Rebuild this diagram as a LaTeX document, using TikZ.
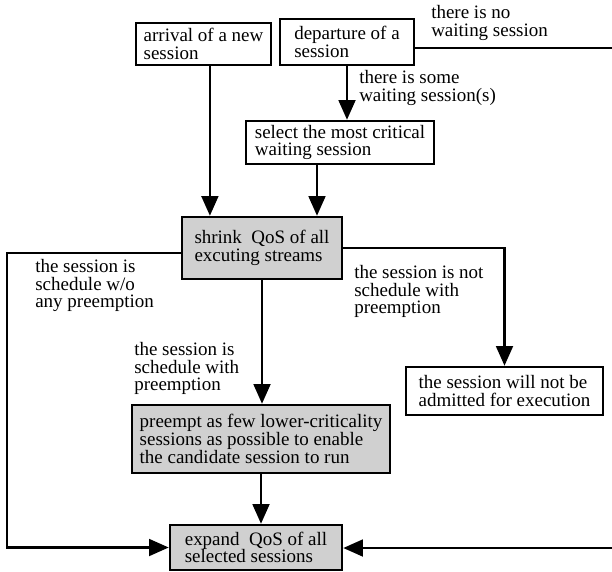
\documentclass[tikz,border=0pt]{standalone}
\usepackage{fontspec}
\setmainfont{Liberation Serif}
\newfontfamily\flowfamily{Liberation Serif}
\usepackage{tikz}
\usetikzlibrary{arrows.meta}
\definecolor{ShadeGray}{RGB}{208,208,208}
\newcommand{\flowfont}{\flowfamily\fontsize{13.5}{12.6}\selectfont}

\begin{document}
\begin{tikzpicture}[
  x=0.025cm, y=-0.025cm,
  box/.style = {
    rectangle, draw, line width=1.8pt,
    align=left, font=\flowfont, inner sep=2pt
  },
  shaded/.style = {box, fill=ShadeGray},
  note/.style = {align=left, font=\flowfont, inner sep=0pt, anchor=north west},
  arrow/.style = {-{Triangle[length=14pt, width=12pt]}, line width=1.6pt},
  link/.style = {line width=1.6pt}
]
\useasboundingbox (0,0) rectangle (612,572);

% Events
\node[box, minimum width=3.375cm, minimum height=1.05cm] (arrival) at (203.5,44)
  {arrival of a new\\session};
\node[box, minimum width=3.35cm, minimum height=1.15cm] (departure) at (347,42)
  {departure of a\\session};

\coordinate (nowait) at (612,48);
\draw[link] (nowait -| departure.east) -- (nowait);
\node[note] (nowaitlbl) at (431,5) {there is no\\waiting session};

% Waiting session
\node[box, minimum width=4.7cm, minimum height=1.075cm] (select) at (340,142.5)
  {select the most critical\\waiting session};

\draw[arrow] (departure.south) -- (departure.south |- select.north);
\node[note] (somewaitlbl) at (359,70) {there is some\\waiting session(s)};

% Shrink
\node[shaded, minimum width=4cm, minimum height=1.55cm] (shrink) at (262,248)
  {shrink~ QoS of all\\excuting streams};

\coordinate (arrout) at ([xshift=0.16cm]arrival.south);
\coordinate (selout) at ([xshift=-0.575cm]select.south);
\draw[arrow] (arrout) -- (arrout |- shrink.north);
\draw[arrow] (selout) -- (selout |- shrink.north);

% Not admitted
\node[box, minimum width=4.925cm, minimum height=1.2cm] (notadmit) at (504.5,391)
  {the session will not be\\admitted for execution};

\draw[arrow] (shrink.east) -| (notadmit.north);
\node[note] (notschedlbl) at (354,265) {the session is not\\schedule with\\preemption};

% Preemption
\node[shaded, minimum width=6.45cm, minimum height=1.7cm] (preempt) at (261,439)
  {preempt as few lower-criticality\\sessions as possible to enable\\the candidate session to run};

\draw[arrow] (shrink.south) -- (shrink.south |- preempt.north);
\node[note] (withpreemptlbl) at (134,342) {the session is\\schedule with\\preemption};

% Expand
\node[shaded, minimum width=4.3cm, minimum height=1.125cm] (expand) at (256,547.5)
  {expand~ QoS of all\\selected sessions};

\draw[arrow] (preempt.south) -- (preempt.south |- expand.north);

\coordinate (leftturn) at (7,253);
\draw[arrow] (leftturn -| shrink.west) -- (leftturn) |- (expand.west);
\node[note] (nopreemptlbl) at (35,259) {the session is\\schedule w/o\\any preemption};

\coordinate (rightin) at (612,548);
\draw[arrow] (rightin) -- (rightin -| expand.east);

\end{tikzpicture}
\end{document}
